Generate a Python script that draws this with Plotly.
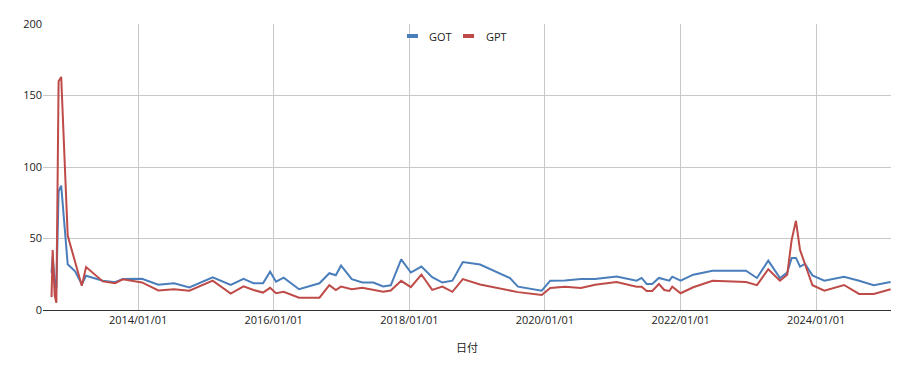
import plotly.graph_objects as go

dates = [
    "2012-09-22", "2012-09-28", "2012-10-09", "2012-10-18", "2012-10-30", "2012-11-13",
    "2012-12-18", "2013-01-27", "2013-03-04", "2013-03-27", "2013-06-25", "2013-08-30",
    "2013-10-11", "2014-01-22", "2014-04-20", "2014-07-14", "2014-10-04", "2015-02-07",
    "2015-05-15", "2015-07-23", "2015-09-01", "2015-09-15", "2015-11-05", "2015-12-13",
    "2016-01-14", "2016-02-24", "2016-05-17", "2016-09-04", "2016-10-27", "2016-12-01",
    "2016-12-29", "2017-02-25", "2017-04-23", "2017-06-21", "2017-08-13", "2017-09-23",
    "2017-11-18", "2018-01-09", "2018-03-07", "2018-05-04", "2018-06-28", "2018-08-21",
    "2018-10-16", "2019-01-17", "2019-06-27", "2019-08-09", "2019-12-15", "2020-01-30",
    "2020-04-18", "2020-07-13", "2020-09-27", "2021-01-21", "2021-05-09", "2021-06-05",
    "2021-07-02", "2021-08-01", "2021-09-06", "2021-10-05", "2021-11-01", "2021-11-17",
    "2022-01-01", "2022-03-10", "2022-06-22", "2022-12-19", "2023-02-16", "2023-04-18",
    "2023-06-20", "2023-07-29", "2023-08-22", "2023-09-14", "2023-10-06", "2023-11-02",
    "2023-12-12", "2024-02-14", "2024-04-11", "2024-05-30", "2024-08-19", "2024-11-06",
    "2025-02-05",
]

got = [
    26, 37, 20, 15, 83, 87,
    32, 27, 18, 24, 20.5, 19.5,
    21.7, 21.8, 17.7, 18.7, 15.8, 22.8,
    17.5, 21.8, 19.5, 18.7, 18.7, 26.8,
    19.8, 22.6, 14.5, 18.7, 25.7, 24.3,
    31, 21.6, 19.2, 19.2, 16.4, 17.3,
    35.4, 26.2, 30.4, 23, 19.2, 20.5,
    33.5, 31.8, 22.4, 16.3, 13.5, 20.5,
    20.7, 21.6, 21.6, 23.4, 20.5, 22.4,
    18.2, 18.2, 22.4, 21.4, 20.5, 23.3,
    20.5, 24.7, 27.5, 27.5, 22.4, 34.5,
    22.4, 26.1, 36.4, 36.4, 30.3, 32.2,
    24.2, 20.5, 21.8, 23.3, 20.5, 17.3,
    19.6,
]

gpt = [
    9, 42, 10, 5, 160, 163,
    52, 33.5, 17, 30, 20, 18.7,
    21.5, 19.3, 13.7, 14.5, 13.5, 20.5,
    11.5, 16.5, 14.5, 14, 12.2, 15.5,
    11.7, 12.7, 8.6, 8.6, 17.4, 14,
    16.4, 14.5, 15.5, 14, 12.7, 13.6,
    20.4, 16, 24.8, 14.1, 16.4, 12.7,
    21.6, 17.8, 13.5, 12.5, 10.5, 15.4,
    16.3, 15.4, 17.6, 19.6, 16.3, 16.3,
    13.3, 13.3, 18.2, 14, 13.3, 16.3,
    11.7, 15.9, 20.5, 19.6, 17.4, 28.5,
    20.5, 24.7, 49, 62.4, 42, 31.5,
    17.3, 13.5, 15.4, 17.5, 11.2, 11.2,
    14.5,
]

series_names = ["GOT", "GPT"]
colors = ["#4a7ebb", "#be4b48"]
x_title = "日付"

fig = go.Figure()
for name, vals, col in zip(series_names, [got, gpt], colors):
    fig.add_trace(go.Scatter(x=dates, y=vals, mode="lines", name=name,
                             line=dict(color=col, width=2), showlegend=False))

# custom legend (short line samples like the reference)
legend_items = [
    (0.4292, 0.4422, 0.4528),
    (0.4953, 0.5083, 0.5200),
]
for (x0, x1, xt), name, col in zip(legend_items, series_names, colors):
    fig.add_shape(type="line", xref="paper", yref="paper", x0=x0, x1=x1, y0=0.958, y1=0.958,
                  line=dict(color=col, width=4))
    fig.add_annotation(xref="paper", yref="paper", x=xt, y=0.958, text=name, showarrow=False,
                       xanchor="left", yanchor="middle",
                       font=dict(size=11, color="#222222", family="Open Sans"))

fig.update_layout(
    width=910, height=378,
    margin=dict(l=43, r=19, t=24, b=68),
    paper_bgcolor="white", plot_bgcolor="white",
    font=dict(family="Open Sans, Noto Sans CJK JP", size=11, color="#222222"),
    xaxis=dict(
        type="date",
        range=["2012-08-07", "2025-02-07"],
        tick0="2014-01-01", dtick="M24", tickformat="%Y/%m/%d",
        showgrid=True, gridcolor="#c8c8c8", gridwidth=1,
        showline=True, linecolor="#333333", linewidth=1,
        zeroline=False, ticks="",
        title=dict(text=x_title, font=dict(family="Noto Sans CJK JP", size=11, color="#222222"),
                   standoff=18),
    ),
    yaxis=dict(
        range=[0, 200], dtick=50,
        showgrid=True, gridcolor="#c8c8c8", gridwidth=1,
        zeroline=False, showline=False, ticks="",
    ),
)

fig.write_html("out.html")
